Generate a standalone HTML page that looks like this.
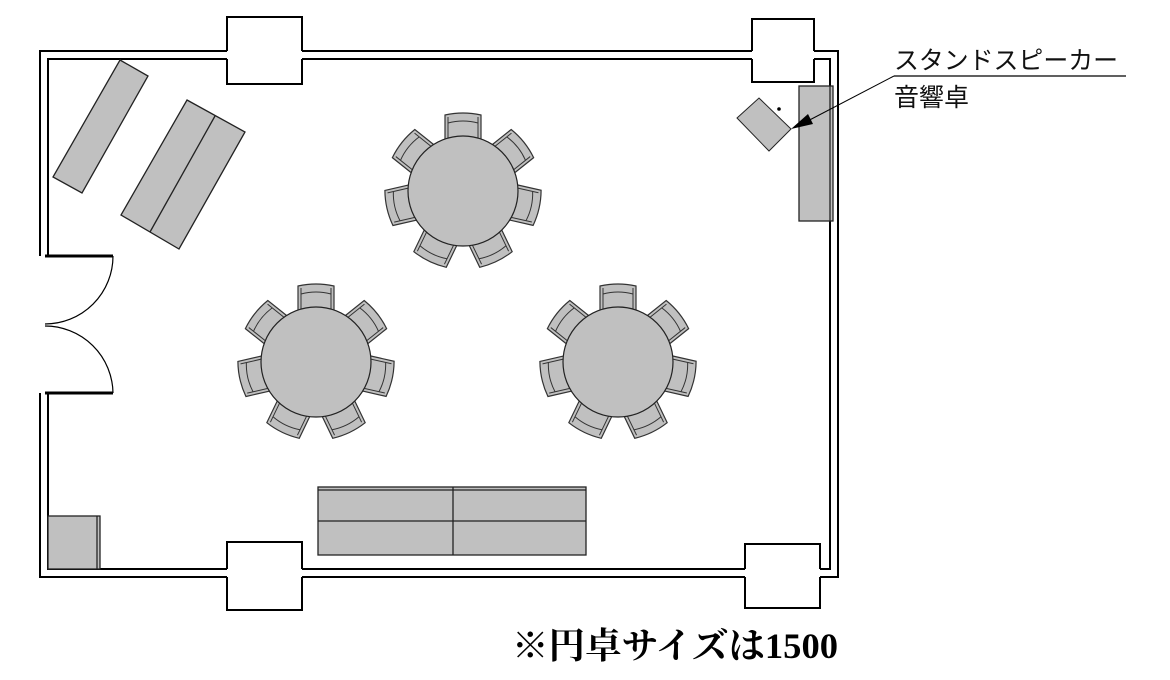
<!DOCTYPE html>
<html><head><meta charset="utf-8"><style>html,body{margin:0;padding:0;background:#fff}svg{display:block}</style></head>
<body>
<svg width="1170" height="680" viewBox="0 0 1170 680" xmlns="http://www.w3.org/2000/svg">
<defs>
<g id="chair">
<path d="M-18,-47 L-18,-76 Q0,-80 18,-76 L18,-47 Z" fill="#c0c0c0" stroke="#333" stroke-width="1.2"/>
<path d="M-15,-50 L-15,-74" fill="none" stroke="#333" stroke-width="1"/>
<path d="M15,-50 L15,-74" fill="none" stroke="#333" stroke-width="1"/>
<path d="M-15,-68 Q0,-72 15,-68" fill="none" stroke="#333" stroke-width="1"/>
</g>
<g id="rt">
<use href="#chair" transform="rotate(0)"/>
<use href="#chair" transform="rotate(51.4)"/>
<use href="#chair" transform="rotate(102.8)"/>
<use href="#chair" transform="rotate(154.3)"/>
<use href="#chair" transform="rotate(205.7)"/>
<use href="#chair" transform="rotate(257.1)"/>
<use href="#chair" transform="rotate(308.6)"/>
<circle r="55" fill="#c0c0c0" stroke="#222" stroke-width="1.2"/>
</g>
</defs>
<g fill="none" stroke="#000" stroke-width="2">
<polyline points="40,256 40,51 227,51"/>
<polyline points="48,256 48,59 227,59"/>
<line x1="302" y1="51" x2="752" y2="51"/>
<line x1="302" y1="59" x2="752" y2="59"/>
<polyline points="814,51 838,51 838,577 820,577"/>
<polyline points="814,59 830,59 830,569 820,569"/>
<polyline points="40,393 40,577 227,577"/>
<polyline points="48,393 48,569 227,569"/>
<line x1="302" y1="577" x2="745" y2="577"/>
<line x1="302" y1="569" x2="745" y2="569"/>
<!-- columns (open where walls join) -->
<path d="M227,51 V17 H302 V51 M302,59 V84 H227 V59"/>
<path d="M752,51 V19 H814 V51 M814,59 V82 H752 V59"/>
<path d="M227,569 V542 H302 V569 M302,577 V610 H227 V577"/>
<path d="M745,569 V544 H820 V569 M820,577 V608 H745 V577"/>
</g>
<g fill="none" stroke="#000">
<line x1="45" y1="256" x2="113" y2="256" stroke-width="3"/>
<line x1="45" y1="393" x2="113" y2="393" stroke-width="3"/>
<path d="M113,256 A68,68 0 0 1 45,324" stroke-width="1.2"/>
<path d="M113,393 A68,68 0 0 0 45,326" stroke-width="1.2"/>
</g>
<g fill="#c0c0c0" stroke="#222" stroke-width="1.3">
<polygon points="120,60 148,76 82,193 53,177"/>
<polygon points="187,100 245,132 179,249 121,215"/>
<line x1="215" y1="116" x2="150" y2="232"/>
<rect x="318" y="487" width="268" height="68"/>
<line x1="318" y1="490" x2="586" y2="490"/>
<line x1="318" y1="521" x2="586" y2="521"/>
<line x1="453" y1="487" x2="453" y2="555"/>
<rect x="48" y="516" width="52" height="53"/>
<line x1="97" y1="516" x2="97" y2="569"/>
<rect x="799" y="86" width="34" height="135"/>
<line x1="830" y1="86" x2="830" y2="221"/>
<polygon points="737,118 759,98 791,129 769,151" stroke-width="1"/>
</g>
<circle cx="779" cy="109" r="1.8" fill="#000"/>
<use href="#rt" transform="translate(463,191)"/>
<use href="#rt" transform="translate(316,362)"/>
<use href="#rt" transform="translate(618,362)"/>
<line x1="894" y1="76" x2="1126" y2="76" stroke="#000" stroke-width="1.3"/>
<line x1="894" y1="76" x2="800" y2="125" stroke="#000" stroke-width="1"/>
<polygon points="791,129 808,114 813,124" fill="#000"/>
<text x="894" y="69" font-family="'Liberation Sans','Noto Sans CJK JP',sans-serif" font-size="25" fill="#111" textLength="224" lengthAdjust="spacingAndGlyphs">スタンドスピーカー</text>
<text x="894" y="106" font-family="'Liberation Sans','Noto Sans CJK JP',sans-serif" font-size="25" fill="#111">音響卓</text>
<text x="512" y="658" font-family="'Liberation Serif','Noto Serif CJK SC',serif" font-weight="bold" font-size="36" fill="#000" textLength="326" lengthAdjust="spacingAndGlyphs">※円卓サイズは1500</text>
</svg>
</body></html>
